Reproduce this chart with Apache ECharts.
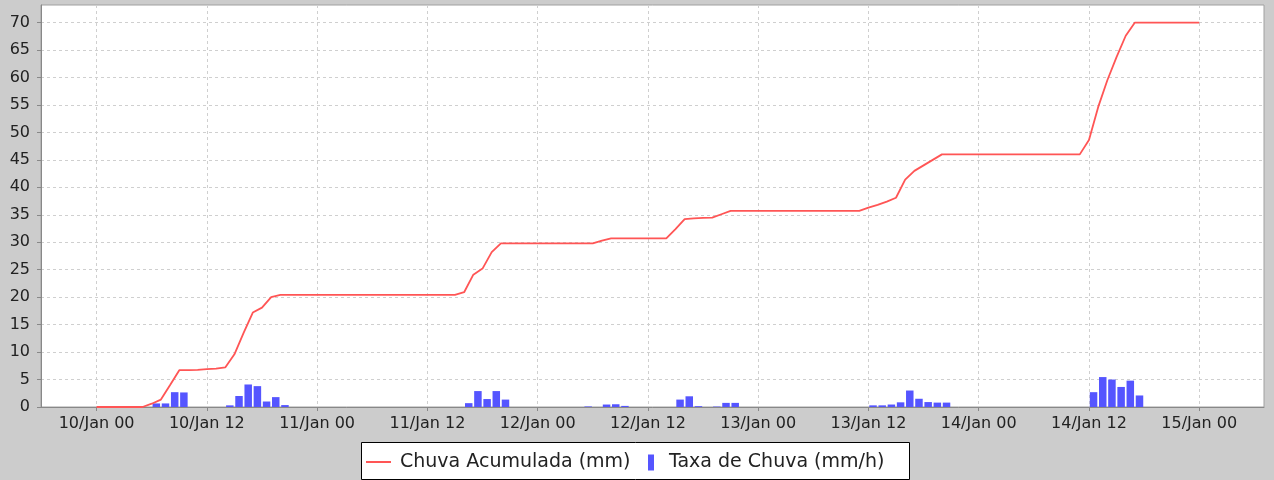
<!DOCTYPE html>
<html>
<head>
<meta charset="utf-8">
<script src="https://cdn.jsdelivr.net/npm/echarts@6/dist/echarts.min.js"></script>
<style>
html,body{margin:0;padding:0;background:#cccccc;}
#chart{width:1274px;height:480px;}
</style>
</head>
<body>
<div id="chart"></div>
<script>
// Hours since 10/Jan 00:00
const lineHours = [
  0,1,2,3,4,5,6,7,8,9,10,11,12,13,14,15,16,17,18,19,
  20,21,22,23,24,25,26,27,28,29,30,31,32,33,34,35,36,37,38,39,
  40,41,42,43,44,45,46,47,48,49,50,51,52,53,54,55,56,57,58,59,
  60,61,62,63,64,65,66,67,68,69,70,71,72,73,74,75,76,77,78,79,
  80,81,82,83,84,85,86,87,88,89,90,91,92,93,94,95,96,97,98,99,
  100,101,102,103,104,105,106,107,108,109,110,111,112,113,114,115,116,117,118,119,120
];
// Chuva Acumulada (mm)
const accumulated = [
  0,0,0,0,0,0,0.6,1.35,4.0,6.7,6.7,6.75,6.9,7.0,7.2,9.6,13.5,17.2,18.1,20.0,
  20.4,20.4,20.4,20.4,20.4,20.4,20.4,20.4,20.4,20.4,20.4,20.4,20.4,20.4,20.4,20.4,20.4,20.4,20.4,20.4,
  20.9,24.1,25.2,28.2,29.8,29.8,29.8,29.8,29.8,29.8,29.8,29.8,29.8,29.8,29.8,30.3,30.7,30.7,30.7,30.7,
  30.7,30.7,30.7,32.4,34.2,34.35,34.45,34.5,35.1,35.7,35.7,35.7,35.7,35.7,35.7,35.7,35.7,35.7,35.7,35.7,
  35.7,35.7,35.7,35.7,36.3,36.8,37.4,38.1,41.4,43.0,44.0,45.0,46.0,46.0,46.0,46.0,46.0,46.0,46.0,46.0,
  46.0,46.0,46.0,46.0,46.0,46.0,46.0,46.0,48.6,54.6,59.5,63.7,67.6,70.0,70.0,70.0,70.0,70.0,70.0,70.0,70.0
];
// Taxa de Chuva (mm/h), at mid-hour times
const rateHours = [
  6.5,7.5,8.5,9.5,14.5,15.5,16.5,17.5,18.5,19.5,20.5,
  40.5,41.5,42.5,43.5,44.5,
  53.5,55.5,56.5,57.5,
  63.5,64.5,65.5,67.5,68.5,69.5,
  84.5,85.5,86.5,87.5,88.5,89.5,90.5,91.5,92.5,
  108.5,109.5,110.5,111.5,112.5,113.5
];
const rateValues = [
  0.65,0.65,2.7,2.65,0.3,2.0,4.1,3.8,1.0,1.8,0.35,
  0.7,2.9,1.45,2.9,1.35,
  0.1,0.45,0.5,0.2,
  1.35,1.95,0.15,0.08,0.75,0.75,
  0.3,0.3,0.45,0.85,3.0,1.5,0.9,0.8,0.8,
  2.7,5.45,5.0,3.65,4.8,2.1
];
const tickHours = [0,12,24,36,48,60,72,84,96,108,120];
const tickLabels = ["10/Jan 00","10/Jan 12","11/Jan 00","11/Jan 12","12/Jan 00","12/Jan 12","13/Jan 00","13/Jan 12","14/Jan 00","14/Jan 12","15/Jan 00"];
const seriesNames = ["Chuva Acumulada (mm)","Taxa de Chuva (mm/h)"];

const lineData = lineHours.map((h,i)=>[h, accumulated[i]]);
const barData = rateHours.map((h,i)=>[h, rateValues[i]]);
const labelMap = {};
tickHours.forEach((h,i)=>{ labelMap[h] = tickLabels[i]; });

const FONT = 'DejaVu Sans';
const chart = echarts.init(document.getElementById('chart'), null, {renderer:'canvas'});
chart.setOption({
  backgroundColor:'#cccccc',
  animation:false,
  grid:{left:41,top:5,right:10,bottom:73,show:true,backgroundColor:'#ffffff',borderColor:'#a0a0a0',borderWidth:1},
  xAxis:{
    type:'value', min:-6.05, max:127.05,
    axisLine:{show:true,onZero:false,lineStyle:{color:'#888888',width:1}},
    axisTick:{show:true,length:4,customValues:tickHours,lineStyle:{color:'#888888'}},
    axisLabel:{customValues:tickHours,formatter:v=>labelMap[v]||'',color:'#222',fontFamily:FONT,fontSize:16,margin:9},
    splitLine:{show:true,lineStyle:{color:'#cfcfcf',type:[3,3],width:1}}
  },
  yAxis:{
    type:'value', min:0, max:73.2, interval:5,
    axisLine:{show:true,onZero:false,lineStyle:{color:'#888888',width:1}},
    axisTick:{show:true,length:4,lineStyle:{color:'#888888'}},
    axisLabel:{showMaxLabel:false,color:'#222',fontFamily:FONT,fontSize:16,margin:11},
    splitLine:{show:true,lineStyle:{color:'#cfcfcf',type:[3,3],width:1}}
  },
  legend:[
    {data:[{name:seriesNames[0],icon:'rect'}],left:366,top:452.5,padding:0,itemWidth:25,itemHeight:2,
     textStyle:{fontFamily:FONT,fontSize:19,color:'#222',padding:[0,0,0,4]}},
    {data:[{name:seriesNames[1],icon:'rect'}],left:648,top:453,padding:0,itemWidth:6,itemHeight:16,
     textStyle:{fontFamily:FONT,fontSize:19,color:'#222',padding:[0,0,0,10]}}
  ],
  graphic:[{type:'rect',z:-1,shape:{x:361.5,y:442.5,width:548,height:37},style:{fill:'#ffffff',stroke:'#000000',lineWidth:1}}],
  series:[
    {name:seriesNames[0],type:'line',data:lineData,symbol:'none',z:3,
     lineStyle:{color:'#ff5555',width:1.8},itemStyle:{color:'#ff5555'}},
    {name:seriesNames[1],type:'bar',data:barData,barWidth:7.5,z:2,
     itemStyle:{color:'#5555ff'}}
  ]
});
</script>
</body>
</html>
